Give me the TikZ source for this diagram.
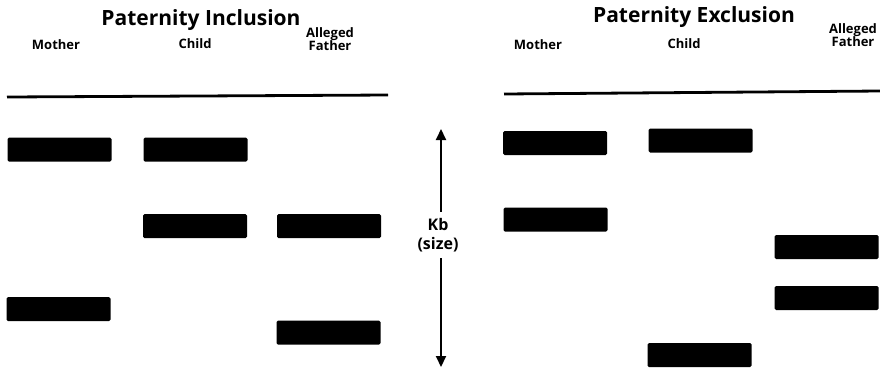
\documentclass[tikz,border=0pt]{standalone}
\usepackage{fontspec}
\setmainfont{Open Sans}
\usetikzlibrary{arrows.meta}

\begin{document}
\begin{tikzpicture}[x=1pt,y=-1pt,
    band/.style={rectangle,fill,rounded corners=1.5pt,minimum width=104pt,minimum height=24pt,inner sep=0pt},
    title/.style={font=\bfseries\fontsize{21}{24}\selectfont},
    head/.style={font=\bfseries\fontsize{13}{13}\selectfont,align=center}]
    \useasboundingbox (0,0) rectangle (880,368);
    % titles and column heads
    \node[title] (inc) at (201,20) {Paternity Inclusion};
    \node[title] (exc) at (694,17) {Paternity Exclusion};
    \node[head] (motherA) at (56,45) {Mother};
    \node[head] (childA) at (195,44) {Child};
    \node[head] (fatherA) at (330,39) {Alleged\\Father};
    \node[head] (motherB) at (538,45) {Mother};
    \node[head] (childB) at (684,44) {Child};
    \node[head] (fatherB) at (853,35) {Alleged\\Father};
    \draw[line width=2.8pt] (7,97) -- (388,95);
    \draw[line width=2.8pt] (504,94) -- (880,91);
    % inclusion lanes
    \node[band] (mA1) at (59.5,149.5) {};
    \node[band] (cA1) at (195.5,149.5) {};
    \node[band] (cA2) at (195,226) {};
    \node[band] (fA1) at (329,226) {};
    \node[band] (mA2) at (58.5,309) {};
    \node[band] (fA2) at (328.5,332.5) {};
    % exclusion lanes
    \node[band] (mB1) at (555,143) {};
    \node[band] (cB1) at (700.5,140.5) {};
    \node[band] (mB2) at (555.5,219.5) {};
    \node[band] (fB1) at (826.5,247) {};
    \node[band] (fB2) at (826.5,298) {};
    \node[band] (cB2) at (699.5,355) {};
    % size axis
    \node[head,font=\bfseries\fontsize{16}{19}\selectfont,inner sep=1pt] (kb) at (438,235) {Kb\\(size)};
    \coordinate (kbtop) at (441,129);
    \coordinate (kbbot) at (441,367);
    \draw[line width=2pt,-{Triangle[length=11pt,width=10pt]}] (kb.north -| kbtop) ++(0,-5) -- (kbtop);
    \draw[line width=2pt,-{Triangle[length=11pt,width=10pt]}] (kb.south -| kbbot) ++(0,5) -- (kbbot);
  \end{tikzpicture}
\end{document}
